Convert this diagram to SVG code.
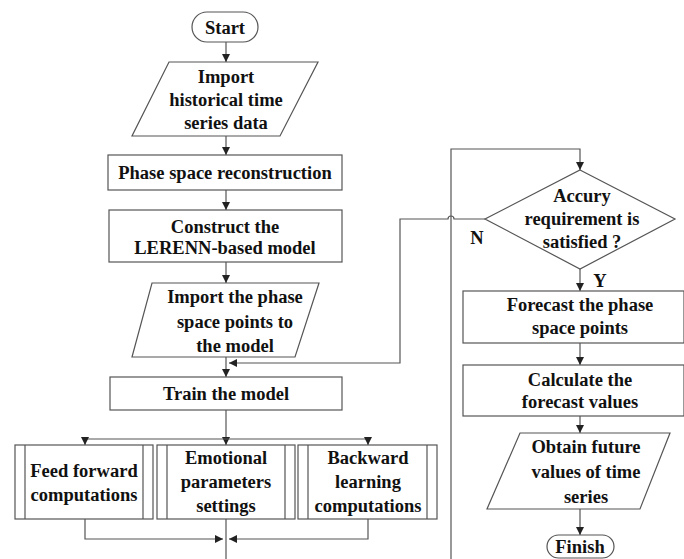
<svg xmlns="http://www.w3.org/2000/svg" width="684" height="559" viewBox="0 0 684 559">
<defs>
<marker id="ah" viewBox="0 0 10 10" refX="10" refY="5" markerWidth="8" markerHeight="8" markerUnits="userSpaceOnUse" orient="auto">
<path d="M0,0 L10,5 L0,10 z" fill="#222"/>
</marker>
<style>
.s{fill:#fff;stroke:#555;stroke-width:1.2}
.c{fill:none;stroke:#555;stroke-width:1.2}
.a{marker-end:url(#ah)}
text{font-family:"Liberation Serif","Times New Roman",serif;font-weight:bold;font-size:18.5px;fill:#111;text-anchor:middle}
</style>
</defs>
<rect width="684" height="559" fill="#fff"/>
<g id="connectors">
<path class="c a" d="M226,42 V62"/>
<path class="c a" d="M226,136 V155"/>
<path class="c a" d="M226,190 V210"/>
<path class="c a" d="M226,262 V283"/>
<path class="c a" d="M226,357 V377"/>
<path class="c a" d="M485,219 H454 A3,3 0 0 0 448,219 H400 V363 H229"/>
<path class="c a" d="M226,410 V445"/>
<path class="c a" d="M226,439 H85 V445"/>
<path class="c a" d="M226,439 H368 V445"/>
<path class="c a" d="M85,519 V539 H223"/>
<path class="c a" d="M368,519 V539 H229"/>
<path class="c" d="M226,519 V559"/>
<path class="c a" d="M451,559 V149 H580 V170"/>
<path class="c a" d="M580,269 V291"/>
<path class="c a" d="M580,343 V365"/>
<path class="c a" d="M580,416 V433"/>
<path class="c a" d="M580,509 V535"/>
</g>
<g id="start"><rect class="s" x="192" y="12" width="66" height="30" rx="15"/><text x="225" y="34">Start</text></g>
<g id="import-data"><polygon class="s" points="169,62 318,62 280,136 132,136"/><text x="226" y="83">Import</text><text x="226" y="106">historical time</text><text x="226" y="129">series data</text></g>
<g id="phase-space"><rect class="s" x="108" y="155" width="234" height="35"/><text x="225" y="179">Phase space reconstruction</text></g>
<g id="construct"><rect class="s" x="109" y="210" width="233" height="52"/><text x="225" y="233">Construct the</text><text x="225" y="254">LERENN-based model</text></g>
<g id="import-points"><polygon class="s" points="152,283 319,283 295,357 132,357"/><text x="235" y="303">Import the phase</text><text x="235" y="328">space points to</text><text x="235" y="352">the model</text></g>
<g id="train"><rect class="s" x="110" y="377" width="232" height="33"/><text x="226" y="400">Train the model</text></g>
<g id="feed-forward"><rect class="s" x="15" y="445" width="138" height="74"/><path class="c" d="M25,445 V519 M143,445 V519"/><text x="84" y="477">Feed forward</text><text x="84" y="501">computations</text></g>
<g id="emotional"><rect class="s" x="157" y="445" width="138" height="74"/><path class="c" d="M167,445 V519 M285,445 V519"/><text x="226" y="464">Emotional</text><text x="226" y="488">parameters</text><text x="226" y="512">settings</text></g>
<g id="backward"><rect class="s" x="298" y="445" width="139" height="74"/><path class="c" d="M308,445 V519 M427,445 V519"/><text x="368" y="464">Backward</text><text x="368" y="488">learning</text><text x="368" y="512">computations</text></g>
<g id="decision"><polygon class="s" points="580,170 675,219 580,269 485,219"/><text x="582" y="202">Accury</text><text x="582" y="225">requirement is</text><text x="582" y="248">satisfied ?</text><text x="477" y="244">N</text><text x="600" y="287">Y</text></g>
<g id="forecast-points"><rect class="s" x="463" y="291" width="221" height="52"/><text x="580" y="311">Forecast the phase</text><text x="580" y="334">space points</text></g>
<g id="calculate"><rect class="s" x="463" y="365" width="221" height="51"/><text x="580" y="386">Calculate the</text><text x="580" y="408">forecast values</text></g>
<g id="obtain"><polygon class="s" points="520,433 670,433 640,509 487,509"/><text x="586" y="453">Obtain future</text><text x="586" y="478">values of time</text><text x="586" y="503">series</text></g>
<g id="finish"><rect class="s" x="547" y="535" width="67" height="23" rx="11.5"/><text x="580" y="553">Finish</text></g>
</svg>
